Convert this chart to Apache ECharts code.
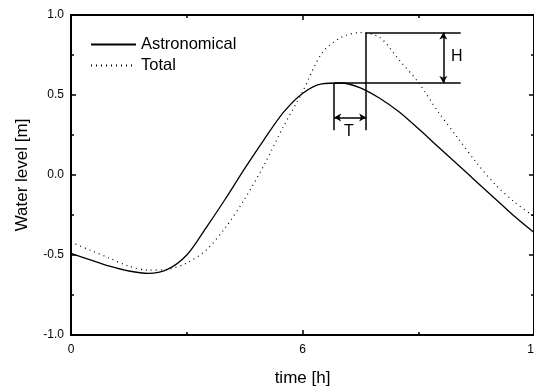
<!DOCTYPE html>
<html><head><meta charset="utf-8">
<script src="https://cdn.jsdelivr.net/npm/echarts@6/dist/echarts.min.js"></script>
<style>html,body{margin:0;padding:0;background:#fff}#c{width:534px;height:389px}</style>
</head><body><div id="c"></div>
<script>
const timeH = [0,0.5,1,1.5,2,2.5,3,3.5,4,4.5,5,5.5,6,6.5,7,7.5,8,8.5,9,9.5,10,10.5,11,11.5,12];
const astronomical = [-0.49,-0.53,-0.57,-0.60,-0.615,-0.59,-0.50,-0.33,-0.15,0.04,0.22,0.39,0.51,0.57,0.575,0.545,0.48,0.395,0.29,0.18,0.07,-0.04,-0.15,-0.26,-0.36];
const total = [-0.42,-0.47,-0.52,-0.57,-0.595,-0.59,-0.55,-0.47,-0.33,-0.15,0.06,0.30,0.52,0.76,0.86,0.89,0.86,0.72,0.58,0.40,0.24,0.08,-0.06,-0.17,-0.26];
const seriesNames = ['Astronomical','Total'];
const yTicks = [-1.0,-0.5,0.0,0.5,1.0];
// annotation values (data units)
const tAstroPeak = 6.82, tTotalPeak = 7.65, boxRight = 10.1, hArrowT = 9.65;
const hAstro = 0.575, hTotal = 0.89, tArrowY = 0.36, tLineBottom = 0.28;
const tLabel = [7.2, 0.27], hLabel = [10.0, 0.74];

const font = 'Liberation Sans';
const chart = echarts.init(document.getElementById('c'));
const axisLine = {show:true, onZero:false, lineStyle:{color:'#000', width:2}};
const tick = {show:true, inside:true, length:5, lineStyle:{color:'#000', width:1.5}};
const minor = {show:true, splitNumber:2, length:3, lineStyle:{color:'#000', width:1.5}};
const seg = (a,b,s1,s2)=>[{coord:a, symbol:s1||'none'},{coord:b, symbol:s2||'none'}];
chart.setOption({
  animation:false,
  grid:{left:71, right:0, top:15, bottom:54, containLabel:false, outerBoundsMode:'none'},
  legend:{
    orient:'vertical', left:85, top:31, itemWidth:45, itemHeight:14, itemGap:4,
    itemStyle:{color:'transparent', borderWidth:0, opacity:0},
    textStyle:{fontFamily:font, fontSize:16.5, color:'#000'},
    data:seriesNames
  },
  xAxis:[{
    type:'value', min:0, max:12, interval:6, position:'bottom',
    name:'time [h]', nameLocation:'middle', nameGap:35,
    nameTextStyle:{fontFamily:font, fontSize:17, color:'#000'},
    axisLine, axisTick:tick, minorTick:minor, splitLine:{show:false},
    axisLabel:{fontFamily:font, fontSize:12, color:'#000', margin:9, hideOverlap:false}
  },{
    type:'value', min:0, max:12, interval:6, position:'top',
    axisLine, axisTick:tick, minorTick:minor, splitLine:{show:false}, axisLabel:{show:false}
  }],
  yAxis:[{
    type:'value', min:yTicks[0], max:yTicks[yTicks.length-1], interval:0.5,
    name:'Water level [m]', nameLocation:'middle', nameGap:40,
    nameTextStyle:{fontFamily:font, fontSize:17, color:'#000'},
    axisLine, axisTick:tick, minorTick:minor, splitLine:{show:false},
    axisLabel:{fontFamily:font, fontSize:12, color:'#000', margin:7,
      formatter:v=>v.toFixed(1)}
  },{
    type:'value', min:-1, max:1, interval:0.5, position:'right',
    axisLine, axisTick:tick, minorTick:minor, splitLine:{show:false}, axisLabel:{show:false}
  }],
  series:[{
    name:seriesNames[0], type:'line', smooth:0.3, showSymbol:false, symbol:'none',
    data:timeH.map((t,i)=>[t,astronomical[i]]),
    lineStyle:{color:'#000', width:1.3}, itemStyle:{color:'#000'},
    markLine:{
      silent:true, symbolSize:[6,7],
      lineStyle:{color:'#000', width:1.5, type:'solid'},
      label:{show:false},
      data:[
        seg([tAstroPeak,hAstro],[boxRight,hAstro]),
        seg([tTotalPeak,hTotal],[boxRight,hTotal]),
        seg([tTotalPeak,hTotal],[tTotalPeak,tLineBottom]),
        seg([tAstroPeak,hAstro],[tAstroPeak,tLineBottom]),
        seg([tAstroPeak,tArrowY],[tTotalPeak,tArrowY],'arrow','arrow'),
        seg([hArrowT,hTotal],[hArrowT,hAstro],'arrow','arrow')
      ]
    },
    markPoint:{
      silent:true, symbol:'circle', symbolSize:0,
      label:{show:true, position:'inside', fontFamily:font, fontSize:16, color:'#000'},
      data:[{coord:tLabel, value:'T', label:{formatter:'T'}},{coord:hLabel, value:'H', label:{formatter:'H'}}]
    }
  },{
    name:seriesNames[1], type:'line', smooth:0.3, showSymbol:false, symbol:'none',
    data:timeH.map((t,i)=>[t,total[i]]),
    lineStyle:{color:'#000', width:1.2, type:[1,4]}, itemStyle:{color:'#000'}
  }]
});
</script></body></html>
